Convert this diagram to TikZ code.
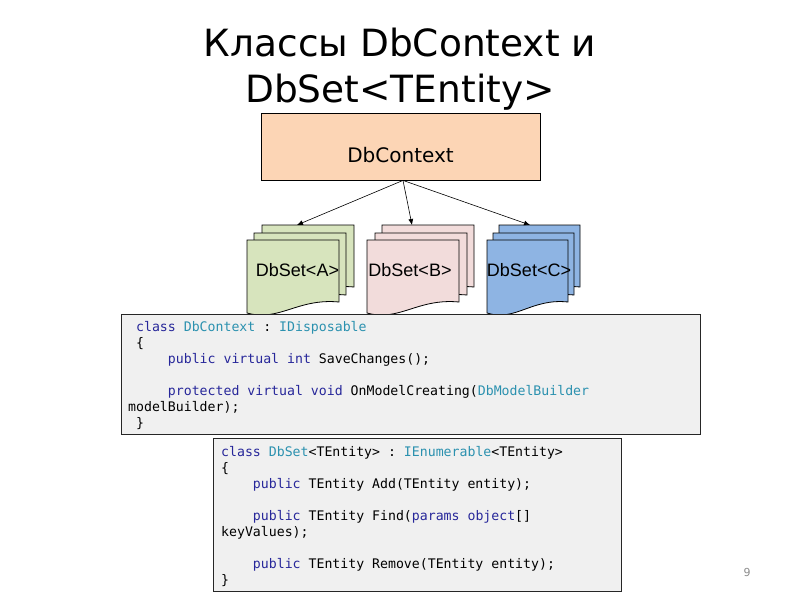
\documentclass[tikz,border=0pt]{standalone}
\usepackage{fontspec}
\setmainfont{DejaVu Sans}
\setmonofont{DejaVu Sans Mono}
\newfontfamily\libsans{Liberation Sans}
\usetikzlibrary{arrows.meta}
\definecolor{ctxfill}{HTML}{FCD5B5}
\definecolor{afill}{HTML}{D7E4BD}
\definecolor{bfill}{HTML}{F2DCDB}
\definecolor{cfill}{HTML}{8EB4E3}
\definecolor{codefill}{HTML}{F0F0F0}
\definecolor{kwcol}{HTML}{27279A}
\definecolor{tycol}{HTML}{2B91AF}
\newcommand{\kw}[1]{\textcolor{kwcol}{#1}}
\newcommand{\ty}[1]{\textcolor{tycol}{#1}}
\newcommand{\docpage}[4]{% x, y, w, fill
  \path[draw=black, line width=0.8pt, fill=#4, shift={(#1,#2)}]
    (0,0) -- ({#3},0) -- ({#3},62)
    .. controls ({0.55*#3},58) and ({0.35*#3},82) .. (0,73) -- cycle;}
\tikzset{
  ctxbox/.style={draw=black, line width=0.8pt, fill=ctxfill, minimum width=279pt, minimum height=67pt, inner sep=0pt},
  codebox/.style={draw=black!85, line width=1pt, fill=codefill, inner sep=0pt},
  codetext/.style={anchor=north west, inner sep=0pt, align=left, font=\ttfamily\fontsize{13.2}{16}\selectfont},
  doclabel/.style={font=\libsans\fontsize{18}{20}\selectfont, inner sep=0pt},
  conn/.style={draw=black, line width=0.6pt, -{Latex[length=6pt,width=5pt]}},
  titletext/.style={anchor=base, inner sep=0pt, font=\fontsize{37.5}{40}\selectfont}
}
\begin{document}
\begin{tikzpicture}[x=1pt, y=-1pt]
\useasboundingbox[fill=white] (0,0) rectangle (800,600);

% title
\node[titletext] (t1) at (400,56) {Классы DbContext и};
\node[titletext] (t2) at (400,102) {DbSet<TEntity>};

% DbContext box
\node[ctxbox] (ctx) at (400.5,146.5) {};
\node[font=\fontsize{20}{24}\selectfont, inner sep=0pt] (ctxlabel) at (400.5,155) {DbContext};

% document stacks
\docpage{262}{225}{92}{afill}
\docpage{254}{233}{92}{afill}
\docpage{247}{240}{92}{afill}
\docpage{382}{225}{92}{bfill}
\docpage{375}{233}{92}{bfill}
\docpage{367}{240}{92}{bfill}
\docpage{499}{225}{81}{cfill}
\docpage{493}{233}{81}{cfill}
\docpage{487}{240}{81}{cfill}
\coordinate (topA) at (297,225);
\coordinate (topB) at (412,225);
\coordinate (topC) at (530,225);
\node[doclabel] (la) at (297.5,270) {DbSet<A>};
\node[doclabel] (lb) at (410,270) {DbSet<B>};
\node[doclabel] (lc) at (529,270) {DbSet<C>};

\draw[conn] ([xshift=2.5pt]ctx.south) -- (topA);
\draw[conn] ([xshift=2.5pt]ctx.south) -- (topB);
\draw[conn] ([xshift=2.5pt]ctx.south) -- (topC);

% code box 1
\node[codebox, minimum width=579pt, minimum height=120pt] (box1) at (410.5,374) {};
\node[codetext] (code1) at (128,321.5) {%
\hphantom{0}\kw{class} \ty{DbContext} : \ty{IDisposable}\\
\hphantom{0}\{\\
\hphantom{00000}\kw{public} \kw{virtual} \kw{int} SaveChanges();\\
\mbox{}\\
\hphantom{00000}\kw{protected} \kw{virtual} \kw{void} OnModelCreating(\ty{DbModelBuilder}\\
modelBuilder);\\
\hphantom{0}\}};

% code box 2
\node[codebox, minimum width=408pt, minimum height=153pt] (box2) at (417,514.5) {};
\node[codetext] (code2) at (221,446.5) {%
\kw{class} \ty{DbSet}<TEntity> : \ty{IEnumerable}<TEntity>\\
\{\\
\hphantom{0000}\kw{public} TEntity Add(TEntity entity);\\
\mbox{}\\
\hphantom{0000}\kw{public} TEntity Find(\kw{params} \kw{object}[]\\
keyValues);\\
\mbox{}\\
\hphantom{0000}\kw{public} TEntity Remove(TEntity entity);\\
\}};

% page number
\node[text=black!45, font=\fontsize{11}{12}\selectfont, inner sep=0pt] (pnum) at (747,572) {9};
\end{tikzpicture}
\end{document}
